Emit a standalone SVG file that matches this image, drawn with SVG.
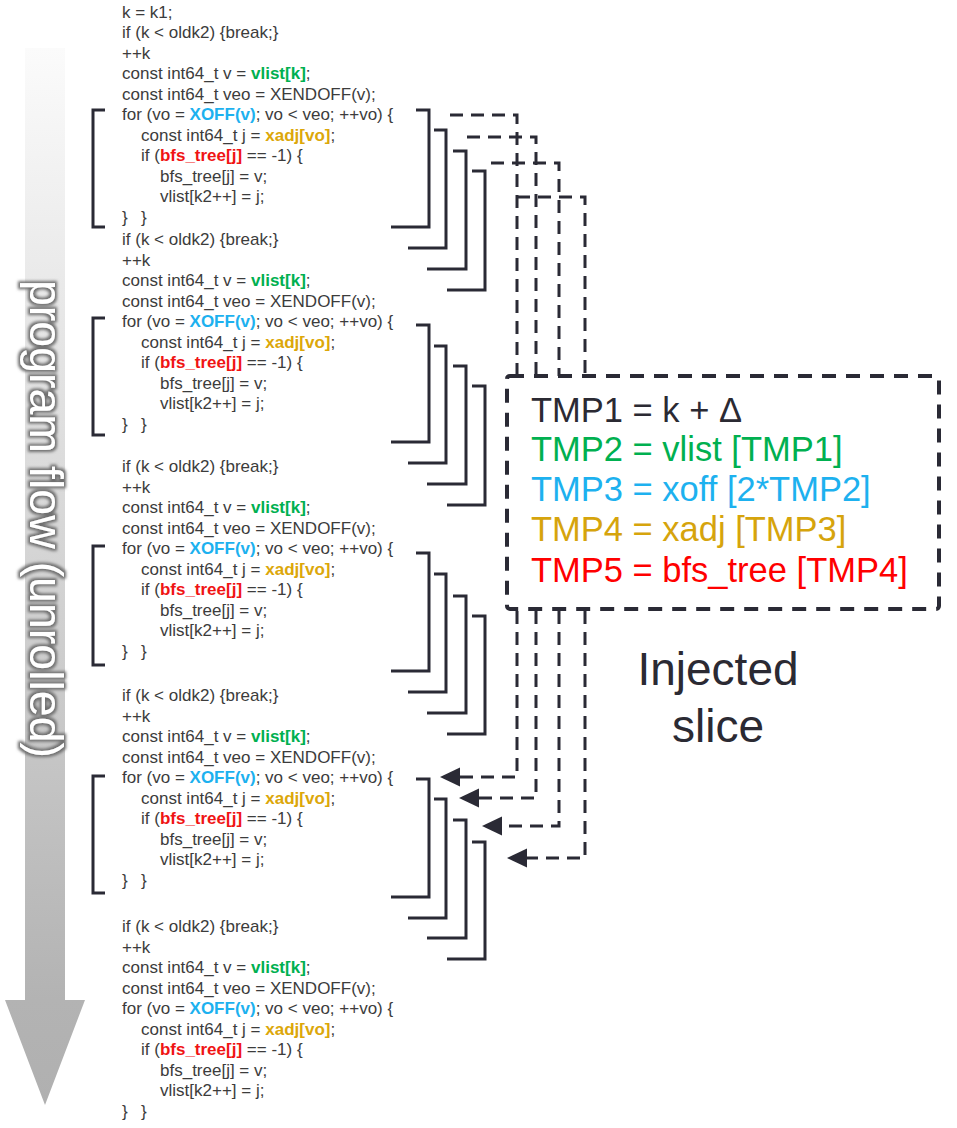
<svg xmlns="http://www.w3.org/2000/svg" width="957" height="1128" viewBox="0 0 957 1128">
<defs>
  <linearGradient id="flowGrad" gradientUnits="userSpaceOnUse" x1="0" y1="48" x2="0" y2="1105">
    <stop offset="0" stop-color="#fbfbfb"/>
    <stop offset="0.9" stop-color="#b3b3b3"/>
    <stop offset="1" stop-color="#b0b0b0"/>
  </linearGradient>
  <filter id="glow" x="-20%" y="-20%" width="140%" height="140%">
    <feMorphology in="SourceAlpha" operator="dilate" radius="2" result="d"/>
    <feGaussianBlur in="d" stdDeviation="1.5" result="b"/>
    <feFlood flood-color="#6e6e6e"/>
    <feComposite in2="b" operator="in" result="g"/>
    <feMerge><feMergeNode in="g"/><feMergeNode in="SourceGraphic"/></feMerge>
  </filter>
  <marker id="arr" markerUnits="userSpaceOnUse" markerWidth="20" markerHeight="20" refX="0" refY="9" orient="auto" viewBox="0 0 19 18">
    <path d="M0,0 L19,9 L0,18 Z" fill="#2a2a35"/>
  </marker>
  <style>
    .code { font-family: "Liberation Sans", Arial, sans-serif; font-size: 17px; fill: #3c3c3c; }
    .g { font-weight: bold; fill: #00b050; }
    .b { font-weight: bold; fill: #1db1ef; }
    .y { font-weight: bold; fill: #dca70a; }
    .r { font-weight: bold; fill: #f01414; }
    .brk { fill: none; stroke: #2a2a35; stroke-width: 3; }
    .dash { fill: none; stroke: #2a2a35; stroke-width: 3; stroke-dasharray: 13 8; }
    .box { fill: none; stroke: #2a2a35; stroke-width: 4; stroke-dasharray: 14 10; }
    .tmp { font-family: "Liberation Sans", Arial, sans-serif; font-size: 34.5px; }
    .big { font-family: "Liberation Sans", Arial, sans-serif; font-size: 46px; fill: #2b2a33; }
  </style>
</defs>

<!-- program flow arrow -->
<g id="flow">
  <polygon points="25,48 65,48 65,1000 85,1000 45,1105 5,1000 25,1000" fill="url(#flowGrad)"/>
  <text transform="translate(30,519) rotate(90)" text-anchor="middle" font-family="Liberation Sans, Arial, sans-serif" font-size="46.5" fill="#ffffff" filter="url(#glow)">program flow (unrolled)</text>
</g>

<!-- code blocks -->
<g id="block1" class="code" transform="translate(0,120)">
  <text x="122" y="-102.5">k = k1;</text>
  <text x="122" y="-82">if (k &lt; oldk2) {break;}</text>
  <text x="122" y="-61.5">++k</text>
  <text x="122" y="-41">const int64_t v = <tspan class="g">vlist[k]</tspan>;</text>
  <text x="122" y="-20.5">const int64_t veo = XENDOFF(v);</text>
  <text x="122" y="0">for (vo = <tspan class="b">XOFF(v)</tspan>; vo &lt; veo; ++vo) {</text>
  <text x="141" y="20.5">const int64_t j = <tspan class="y">xadj[vo]</tspan>;</text>
  <text x="141" y="41">if (<tspan class="r">bfs_tree[j]</tspan> == -1) {</text>
  <text x="160" y="61.5">bfs_tree[j] = v;</text>
  <text x="160" y="82">vlist[k2++] = j;</text>
  <text x="122" y="102.5">}<tspan x="141">}</tspan></text>
</g>
<g id="block2" class="code" transform="translate(0,327)">
  <text x="122" y="-82">if (k &lt; oldk2) {break;}</text>
  <text x="122" y="-61.5">++k</text>
  <text x="122" y="-41">const int64_t v = <tspan class="g">vlist[k]</tspan>;</text>
  <text x="122" y="-20.5">const int64_t veo = XENDOFF(v);</text>
  <text x="122" y="0">for (vo = <tspan class="b">XOFF(v)</tspan>; vo &lt; veo; ++vo) {</text>
  <text x="141" y="20.5">const int64_t j = <tspan class="y">xadj[vo]</tspan>;</text>
  <text x="141" y="41">if (<tspan class="r">bfs_tree[j]</tspan> == -1) {</text>
  <text x="160" y="61.5">bfs_tree[j] = v;</text>
  <text x="160" y="82">vlist[k2++] = j;</text>
  <text x="122" y="102.5">}<tspan x="141">}</tspan></text>
</g>
<g id="block3" class="code" transform="translate(0,554)">
  <text x="122" y="-82">if (k &lt; oldk2) {break;}</text>
  <text x="122" y="-61.5">++k</text>
  <text x="122" y="-41">const int64_t v = <tspan class="g">vlist[k]</tspan>;</text>
  <text x="122" y="-20.5">const int64_t veo = XENDOFF(v);</text>
  <text x="122" y="0">for (vo = <tspan class="b">XOFF(v)</tspan>; vo &lt; veo; ++vo) {</text>
  <text x="141" y="20.5">const int64_t j = <tspan class="y">xadj[vo]</tspan>;</text>
  <text x="141" y="41">if (<tspan class="r">bfs_tree[j]</tspan> == -1) {</text>
  <text x="160" y="61.5">bfs_tree[j] = v;</text>
  <text x="160" y="82">vlist[k2++] = j;</text>
  <text x="122" y="102.5">}<tspan x="141">}</tspan></text>
</g>
<g id="block4" class="code" transform="translate(0,783)">
  <text x="122" y="-82">if (k &lt; oldk2) {break;}</text>
  <text x="122" y="-61.5">++k</text>
  <text x="122" y="-41">const int64_t v = <tspan class="g">vlist[k]</tspan>;</text>
  <text x="122" y="-20.5">const int64_t veo = XENDOFF(v);</text>
  <text x="122" y="0">for (vo = <tspan class="b">XOFF(v)</tspan>; vo &lt; veo; ++vo) {</text>
  <text x="141" y="20.5">const int64_t j = <tspan class="y">xadj[vo]</tspan>;</text>
  <text x="141" y="41">if (<tspan class="r">bfs_tree[j]</tspan> == -1) {</text>
  <text x="160" y="61.5">bfs_tree[j] = v;</text>
  <text x="160" y="82">vlist[k2++] = j;</text>
  <text x="122" y="102.5">}<tspan x="141">}</tspan></text>
</g>
<g id="block5" class="code" transform="translate(0,1014)">
  <text x="122" y="-82">if (k &lt; oldk2) {break;}</text>
  <text x="122" y="-61.5">++k</text>
  <text x="122" y="-41">const int64_t v = <tspan class="g">vlist[k]</tspan>;</text>
  <text x="122" y="-20.5">const int64_t veo = XENDOFF(v);</text>
  <text x="122" y="0">for (vo = <tspan class="b">XOFF(v)</tspan>; vo &lt; veo; ++vo) {</text>
  <text x="141" y="20.5">const int64_t j = <tspan class="y">xadj[vo]</tspan>;</text>
  <text x="141" y="41">if (<tspan class="r">bfs_tree[j]</tspan> == -1) {</text>
  <text x="160" y="61.5">bfs_tree[j] = v;</text>
  <text x="160" y="82">vlist[k2++] = j;</text>
  <text x="122" y="102.5">}<tspan x="141">}</tspan></text>
</g>

<!-- left brackets -->
<g id="left-brackets" class="brk">
  <path d="M105,110 H93 V227 H105"/>
  <path d="M105,318 H93 V435 H105"/>
  <path d="M105,546 H93 V665 H105"/>
  <path d="M105,776 H93 V893 H105"/>
</g>

<!-- right brackets -->
<g id="right-brackets" class="brk">
  <path d="M416,110 H429 V227 H391"/>
  <path d="M434,130 H446 V248 H408"/>
  <path d="M453,151 H466 V269 H427"/>
  <path d="M472,171 H485 V290 H447"/>

  <path d="M416,325 H429 V442 H391"/>
  <path d="M434,346 H446 V463 H408"/>
  <path d="M453,366 H466 V484 H427"/>
  <path d="M472,386 H485 V505 H447"/>

  <path d="M416,553 H429 V671 H391"/>
  <path d="M434,574 H446 V692 H408"/>
  <path d="M453,596 H466 V713 H427"/>
  <path d="M472,616 H485 V734 H447"/>

  <path d="M416,779 H429 V897 H391"/>
  <path d="M434,799 H446 V918 H408"/>
  <path d="M453,820 H466 V938 H427"/>
  <path d="M472,842 H485 V959 H447"/>
</g>

<!-- connectors -->
<g id="connectors">
  <path class="dash" d="M450,115 H517 V376"/>
  <path class="dash" d="M467,137 H536 V376"/>
  <path class="dash" d="M491,163 H559 V376"/>
  <path class="dash" d="M517,197 H585 V376"/>
  <path class="dash" d="M517,611 V777 H460" marker-end="url(#arr)"/>
  <path class="dash" d="M536,611 V798 H479" marker-end="url(#arr)"/>
  <path class="dash" d="M559,611 V826 H502" marker-end="url(#arr)"/>
  <path class="dash" d="M585,611 V858 H527" marker-end="url(#arr)"/>
</g>

<!-- injected slice box -->
<g id="slice-box">
  <rect class="box" x="507" y="376" width="432" height="233" rx="3"/>
  <text class="tmp" x="531" y="422" fill="#2b2a33">TMP1 = k + Δ</text>
  <text class="tmp" x="531" y="461" fill="#00b050">TMP2 = vlist [TMP1]</text>
  <text class="tmp" x="531" y="501" fill="#1db1ef">TMP3 = xoff [2*TMP2]</text>
  <text class="tmp" x="531" y="541" fill="#d6a40c">TMP4 = xadj [TMP3]</text>
  <text class="tmp" x="531" y="582" fill="#ff0000">TMP5 = bfs_tree [TMP4]</text>
</g>

<g id="label">
  <text class="big" x="718" y="685" text-anchor="middle">Injected</text>
  <text class="big" x="718" y="742" text-anchor="middle">slice</text>
</g>
</svg>
